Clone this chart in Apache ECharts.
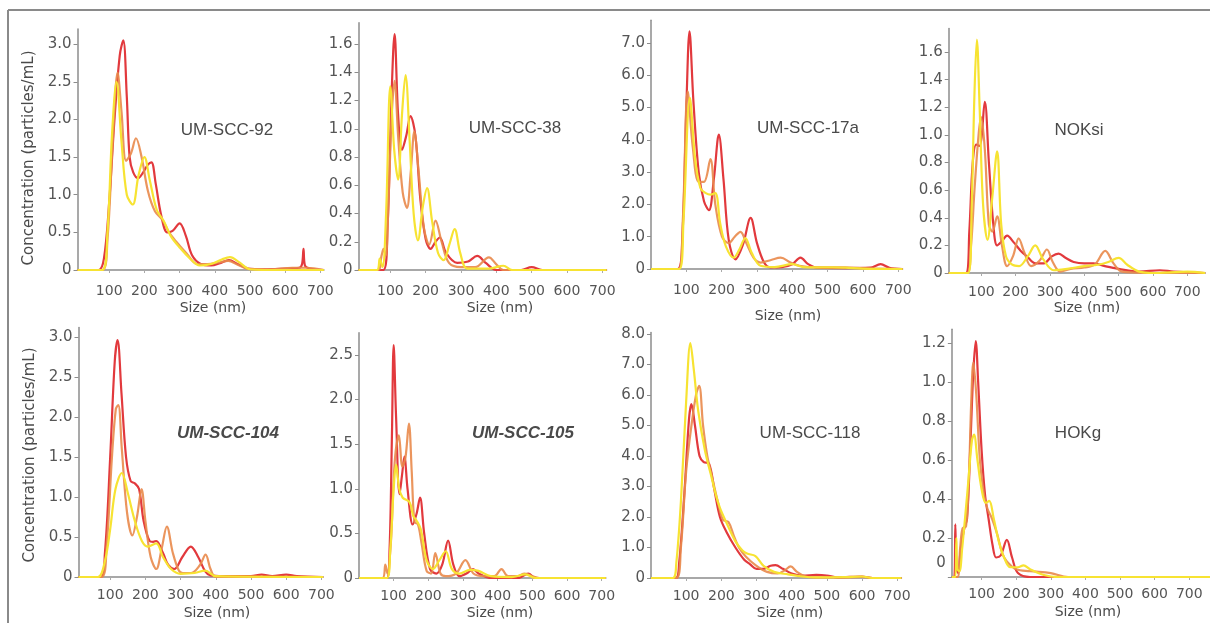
<!DOCTYPE html>
<html>
<head>
<meta charset="utf-8">
<script src="https://cdn.jsdelivr.net/npm/echarts@6/dist/echarts.min.js"></script>
<style>
  html, body { margin: 0; padding: 0; background: #fff; }
  #chart { width: 1210px; height: 623px; }
</style>
</head>
<body>
<div id="chart"></div>
<script>
// size ticks shared by every panel
const sizeTicks = [100, 200, 300, 400, 500, 600, 700];

// concentration ticks per panel
const yTicks92 = [0, 0.5, 1.0, 1.5, 2.0, 2.5, 3.0];
const yTicks38 = [0, 0.2, 0.4, 0.6, 0.8, 1.0, 1.2, 1.4, 1.6];
const yTicks17a = [0, 1, 2, 3, 4, 5, 6, 7];
const yTicksNOK = [0, 0.2, 0.4, 0.6, 0.8, 1.0, 1.2, 1.4, 1.6];
const yTicks104 = [0, 0.5, 1.0, 1.5, 2.0, 2.5, 3.0];
const yTicks105 = [0, 0.5, 1.0, 1.5, 2.0, 2.5];
const yTicks118 = [0, 1, 2, 3, 4, 5, 6, 7, 8];
const yTicksHOK = [0, 0.2, 0.4, 0.6, 0.8, 1.0, 1.2];

const panelNames = ['UM-SCC-92', 'UM-SCC-38', 'UM-SCC-17a', 'NOKsi', 'UM-SCC-104', 'UM-SCC-105', 'UM-SCC-118', 'HOKg'];

// [size nm, concentration]
const red92 = [[10,0],[70,0],[85,0.15],[100,0.9],[115,2.0],[130,2.85],[140,3.05],[150,2.3],[158,1.5],[168,1.3],[182,1.22],[197,1.3],[210,1.4],[220,1.43],[232,1.15],[248,0.72],[265,0.5],[280,0.52],[300,0.62],[318,0.45],[335,0.2],[360,0.08],[390,0.06],[415,0.09],[440,0.13],[465,0.08],[495,0.02],[540,0.01],[600,0.02],[640,0.03],[648,0.08],[652,0.28],[656,0.06],[670,0.02],[710,0]];
const orange92 = [[10,0],[80,0],[95,0.4],[110,1.7],[124,2.62],[135,2.1],[148,1.45],[162,1.55],[176,1.75],[192,1.5],[210,1.05],[230,0.78],[252,0.66],[270,0.5],[290,0.38],[320,0.22],[350,0.08],[380,0.08],[410,0.1],[438,0.12],[465,0.07],[500,0.01],[560,0.01],[620,0.03],[660,0.03],[710,0]];
const yellow92 = [[10,0],[80,0],[95,0.5],[108,1.8],[121,2.5],[135,1.7],[150,1.0],[167,0.87],[183,1.25],[200,1.5],[215,1.2],[235,0.8],[255,0.65],[275,0.45],[300,0.3],[330,0.15],[357,0.06],[390,0.08],[420,0.14],[443,0.17],[470,0.1],[500,0.01],[560,0],[710,0]];

const red38 = [[10,0],[80,0],[92,0.3],[103,1.2],[112,1.67],[122,1.1],[133,0.85],[145,0.95],[157,1.09],[171,0.95],[185,0.5],[200,0.22],[214,0.15],[228,0.2],[240,0.23],[258,0.12],[289,0.05],[320,0.06],[346,0.1],[370,0.05],[400,0],[470,0],[500,0.02],[530,0],[712,0]];
const orange38 = [[10,0],[65,0],[75,0.1],[81,0.15],[87,0.1],[95,0.5],[104,1.1],[112,1.34],[122,0.95],[135,0.55],[147,0.44],[158,0.7],[168,0.98],[180,0.7],[195,0.3],[210,0.18],[228,0.35],[245,0.2],[266,0.05],[300,0.02],[340,0.02],[379,0.09],[400,0.04],[420,0],[712,0]];
const yellow38 = [[10,0],[62,0],[70,0.08],[78,0.02],[88,0.4],[100,1.3],[111,0.85],[122,0.64],[133,1.1],[143,1.38],[155,0.9],[166,0.4],[178,0.21],[192,0.45],[204,0.58],[218,0.35],[235,0.12],[251,0.07],[267,0.18],[282,0.29],[298,0.12],[318,0.01],[380,0.01],[420,0.03],[445,0],[712,0]];

const red17a = [[0,0],[75,0],[88,0.8],[100,5.0],[109,7.36],[120,5.2],[135,3.0],[150,2.1],[164,1.82],[178,2.8],[192,4.16],[205,2.8],[220,0.9],[239,0.3],[260,0.75],[282,1.58],[300,0.8],[320,0.2],[338,0.05],[370,0.06],[400,0.15],[423,0.35],[445,0.15],[470,0.04],[550,0.03],[620,0.04],[650,0.15],[675,0.04],[712,0]];
const orange17a = [[0,0],[78,0],[90,1.5],[104,5.5],[118,3.8],[135,2.7],[150,2.7],[168,3.4],[182,2.0],[201,1.0],[220,0.8],[237,1.0],[253,1.15],[270,0.8],[290,0.35],[310,0.2],[340,0.28],[367,0.35],[395,0.2],[420,0.1],[470,0.05],[550,0.05],[600,0.02],[712,0]];
const yellow17a = [[0,0],[80,0],[92,1.5],[110,5.3],[125,3.4],[140,2.5],[155,2.35],[168,2.3],[182,2.35],[196,1.4],[212,0.7],[234,0.35],[250,0.6],[267,0.96],[285,0.5],[310,0.1],[350,0.06],[400,0.15],[430,0.06],[500,0.05],[550,0.04],[600,0.01],[712,0]];

const redNOK = [[5,0],[55,0],[65,0.3],[75,0.8],[85,0.93],[95,0.92],[110,1.24],[122,0.8],[135,0.35],[146,0.2],[160,0.23],[175,0.27],[195,0.22],[215,0.16],[233,0.12],[258,0.07],[282,0.07],[305,0.12],[325,0.14],[345,0.11],[369,0.08],[400,0.07],[427,0.07],[460,0.05],[500,0.03],[560,0.01],[620,0.02],[660,0.01],[752,0]];
const orangeNOK = [[5,0],[58,0],[70,0.2],[80,0.6],[92,1.0],[99,1.13],[110,0.9],[122,0.35],[132,0.3],[146,0.41],[160,0.2],[175,0.05],[192,0.12],[209,0.25],[225,0.15],[245,0.05],[270,0.09],[291,0.17],[308,0.08],[330,0.01],[360,0.03],[400,0.04],[430,0.06],[461,0.16],[485,0.07],[510,0.01],[600,0],[752,0]];
const yellowNOK = [[5,0],[62,0],[72,0.5],[80,1.3],[87,1.69],[95,1.2],[105,0.5],[118,0.24],[132,0.55],[146,0.88],[158,0.35],[172,0.12],[190,0.06],[210,0.05],[235,0.12],[257,0.2],[280,0.1],[311,0.02],[350,0.03],[400,0.05],[440,0.06],[470,0.08],[500,0.11],[525,0.06],[560,0.01],[600,0],[700,0.01],[752,0]];

const red104 = [[10,0],[72,0],[85,0.3],[100,1.5],[113,2.7],[121,2.96],[132,2.3],[145,1.5],[158,1.2],[170,1.17],[182,1.1],[195,0.7],[212,0.45],[222,0.44],[231,0.45],[250,0.3],[265,0.15],[282,0.1],[305,0.25],[329,0.38],[350,0.25],[370,0.07],[385,0.02],[420,0.01],[500,0.01],[530,0.03],[560,0.01],[600,0.03],[630,0.01],[705,0]];
const orange104 = [[10,0],[75,0],[90,0.4],[105,1.5],[116,2.1],[123,2.15],[133,1.6],[148,0.8],[163,0.52],[176,0.75],[189,1.1],[200,0.7],[215,0.25],[231,0.1],[246,0.35],[261,0.63],[278,0.3],[295,0.08],[306,0.05],[330,0.05],[355,0.15],[371,0.28],[385,0.1],[400,0],[705,0]];
const yellow104 = [[10,0],[65,0],[85,0.2],[100,0.6],[115,1.1],[133,1.3],[150,1.05],[170,0.7],[190,0.45],[207,0.38],[231,0.42],[250,0.25],[273,0.1],[300,0.04],[340,0.05],[370,0.08],[400,0.01],[705,0]];

const red105 = [[0,0],[80,0],[88,0.3],[95,1.6],[100,2.61],[107,1.8],[117,0.94],[124,1.15],[131,1.36],[140,1.0],[155,0.6],[166,0.72],[176,0.9],[188,0.5],[205,0.1],[223,0.05],[240,0.15],[257,0.42],[272,0.15],[290,0.02],[310,0.05],[329,0.1],[345,0.05],[380,0],[460,0],[488,0.05],[510,0],[712,0]];
const orange105 = [[0,0],[68,0],[76,0.15],[82,0.05],[92,0.4],[103,1.3],[115,1.6],[125,1.25],[134,1.35],[144,1.73],[152,1.2],[160,0.63],[170,0.6],[180,0.4],[195,0.08],[208,0.05],[220,0.28],[235,0.05],[250,0.02],[280,0.05],[307,0.2],[330,0.05],[360,0.02],[390,0.02],[411,0.1],[430,0.02],[455,0.02],[478,0.05],[500,0.02],[520,0],[712,0]];
const yellow105 = [[0,0],[80,0],[90,0.3],[100,1.0],[107,1.27],[116,1.0],[126,0.9],[146,0.85],[156,0.7],[165,0.65],[178,0.55],[195,0.2],[213,0.1],[232,0.2],[250,0.3],[268,0.1],[290,0.05],[320,0.09],[345,0.08],[380,0.02],[440,0.01],[480,0.04],[510,0],[712,0]];

const red118 = [[0,0],[70,0],[80,0.5],[95,2.8],[108,5.2],[115,5.7],[125,5.0],[138,4.0],[150,3.8],[165,3.75],[180,2.9],[196,2.0],[215,1.5],[240,1.0],[265,0.6],[282,0.45],[300,0.3],[320,0.3],[340,0.4],[354,0.42],[375,0.3],[400,0.15],[430,0.08],[470,0.1],[500,0.08],[530,0.02],[600,0.05],[630,0],[712,0]];
const orange118 = [[0,0],[72,0],[85,1.0],[100,3.5],[115,5.0],[128,6.0],[137,6.3],[148,5.0],[160,4.0],[172,3.4],[190,2.5],[205,1.9],[220,1.84],[235,1.4],[250,1.0],[270,0.7],[300,0.4],[330,0.2],[360,0.15],[380,0.25],[397,0.38],[415,0.2],[440,0.05],[480,0.02],[560,0.02],[600,0.04],[630,0],[712,0]];
const yellow118 = [[0,0],[62,0],[72,0.5],[85,2.5],[100,5.8],[112,7.7],[122,6.8],[134,5.5],[153,4.2],[170,3.4],[185,2.7],[196,2.3],[215,1.8],[240,1.2],[260,0.9],[273,0.8],[297,0.72],[320,0.4],[350,0.2],[390,0.12],[430,0.05],[470,0.02],[550,0.03],[600,0.05],[630,0],[712,0]];

const redHOK = [[14,0],[21,0],[24,0.27],[27,0.05],[32,0.02],[40,0.15],[50,0.25],[58,0.3],[68,0.7],[76,1.05],[83,1.21],[90,1.0],[100,0.65],[110,0.42],[120,0.3],[132,0.16],[142,0.1],[155,0.11],[173,0.19],[188,0.1],[205,0.02],[240,0],[760,0]];
const orangeHOK = [[14,0],[30,0],[38,0.15],[45,0.25],[55,0.26],[63,0.5],[70,0.9],[76,1.1],[84,0.95],[95,0.6],[107,0.42],[117,0.35],[130,0.3],[145,0.22],[160,0.12],[173,0.08],[200,0.04],[240,0.03],[300,0.02],[350,0],[760,0]];
const yellowHOK = [[14,0],[24,0],[27,0.2],[30,0.04],[36,0.03],[44,0.15],[52,0.3],[62,0.5],[72,0.7],[78,0.73],[88,0.6],[100,0.45],[112,0.38],[122,0.39],[135,0.3],[150,0.18],[165,0.1],[183,0.05],[205,0.05],[221,0.06],[240,0.04],[280,0.01],[320,0],[760,0]];

const seriesByPanel = [
  [red92, orange92, yellow92],
  [red38, orange38, yellow38],
  [red17a, orange17a, yellow17a],
  [redNOK, orangeNOK, yellowNOK],
  [red104, orange104, yellow104],
  [red105, orange105, yellow105],
  [red118, orange118, yellow118],
  [redHOK, orangeHOK, yellowHOK],
];
const yTicksByPanel = [yTicks92, yTicks38, yTicks17a, yTicksNOK, yTicks104, yTicks105, yTicks118, yTicksHOK];

// pixel layout: x0 = px of 0 nm, ppn = px per nm, y0 = px of zero, ppu = px per unit
const layouts = [
  { x0: 74, ppn: 0.352, xmin: 10, xmax: 710, y0: 270, ppu: 75.3, ymax: 3.2, lm: 14, nameX: 227, nameY: 130, sizeX: 213, sizeY: 308 },
  { x0: 355, ppn: 0.3533, xmin: 10, xmax: 712, y0: 270, ppu: 141.25, ymax: 1.75, lm: 14, nameX: 515, nameY: 128, sizeX: 500, sizeY: 308 },
  { x0: 651, ppn: 0.3533, xmin: 0, xmax: 712, y0: 269, ppu: 32.3, ymax: 7.7, lm: 14, nameX: 808, nameY: 128, sizeX: 788, sizeY: 316 },
  { x0: 947, ppn: 0.3433, xmin: 5, xmax: 752, y0: 273, ppu: 138.1, ymax: 1.77, lm: 12, nameX: 1079, nameY: 130, sizeX: 1087, sizeY: 308 },
  { x0: 75, ppn: 0.352, xmin: 10, xmax: 705, y0: 577, ppu: 80, ymax: 3.12, lm: 11, nameX: 228, nameY: 433, sizeX: 217, sizeY: 613 },
  { x0: 359, ppn: 0.3467, xmin: 0, xmax: 712, y0: 578, ppu: 89.2, ymax: 2.75, lm: 11, nameX: 523, nameY: 433, sizeX: 500, sizeY: 613 },
  { x0: 651, ppn: 0.3517, xmin: 0, xmax: 712, y0: 578, ppu: 30.5, ymax: 8.05, lm: 11, nameX: 810, nameY: 433, sizeX: 790, sizeY: 613 },
  { x0: 947, ppn: 0.3467, xmin: 14, xmax: 760, y0: 577, ppu: 195, ymax: 1.27, lm: 10, nameX: 1078, nameY: 433, sizeX: 1088, sizeY: 612 },
];

const lineColors = ['#e2393d', '#e98a4b', '#f7e332'];
const axisColor = '#8c8c8c';
const labelColor = '#555';
const tickFont = 'DejaVu Sans';

const grids = layouts.map((l) => ({
  left: l.x0 + l.xmin * l.ppn,
  top: l.y0 - l.ymax * l.ppu,
  width: (l.xmax - l.xmin) * l.ppn,
  height: l.ymax * l.ppu,
}));

const xAxes = layouts.map((l, i) => ({
  type: 'value',
  gridIndex: i,
  min: l.xmin,
  max: l.xmax,
  splitLine: { show: false },
  axisLine: { show: true, lineStyle: { color: axisColor, width: 1.5 } },
  axisTick: { show: true, customValues: sizeTicks, length: 3, lineStyle: { color: '#aaa' } },
  axisLabel: {
    customValues: sizeTicks,
    color: labelColor,
    fontFamily: tickFont,
    fontSize: 14,
    margin: l.lm,
  },
}));

const yAxes = layouts.map((l, i) => {
  const isHOK = i === 7;
  return {
    type: 'value',
    gridIndex: i,
    min: 0,
    max: l.ymax,
    splitLine: { show: false },
    axisLine: { show: true, lineStyle: { color: axisColor, width: 1.5 } },
    axisTick: { show: true, customValues: yTicksByPanel[i], length: 4, lineStyle: { color: axisColor } },
    axisLabel: {
      customValues: yTicksByPanel[i],
      color: labelColor,
      fontFamily: tickFont,
      fontSize: 15,
      margin: 6,
      // the HOKg zero label sits above its tick in the original
      formatter: (v) => (v === 0 ? (isHOK ? '{z|0}' : '0') : v.toFixed(1)),
      rich: {
        z: { padding: [0, 0, 28, 0], color: labelColor, fontFamily: tickFont, fontSize: 15 },
      },
    },
  };
});

const series = [];
seriesByPanel.forEach((set, i) => {
  set.forEach((data, k) => {
    series.push({
      type: 'line',
      xAxisIndex: i,
      yAxisIndex: i,
      data,
      smooth: 0.35,
      showSymbol: false,
      silent: true,
      lineStyle: { color: lineColors[k], width: 2.2, opacity: k === 1 ? 0.9 : 1 },
      z: 2 + k,
    });
  });
});

const textEl = (text, x, y, font, rotation) => ({
  type: 'text',
  x,
  y,
  rotation: rotation || 0,
  style: {
    text,
    font,
    fill: '#4a4a4a',
    align: 'center',
    verticalAlign: 'middle',
    textAlign: 'center',
    textVerticalAlign: 'middle',
  },
});

const graphics = [
  { type: 'line', shape: { x1: 8, y1: 10, x2: 1210, y2: 10 }, style: { stroke: '#8a8a8a', lineWidth: 2 } },
  { type: 'line', shape: { x1: 8, y1: 10, x2: 8, y2: 623 }, style: { stroke: '#8a8a8a', lineWidth: 2 } },
  textEl('Concentration (particles/mL)', 29, 158, '15px "DejaVu Sans"', Math.PI / 2),
  textEl('Concentration (particles/mL)', 30, 455, '15px "DejaVu Sans"', Math.PI / 2),
];
layouts.forEach((l, i) => {
  const italic = i === 4 || i === 5;
  const font = italic ? 'italic bold 17px "Liberation Sans"' : '17px "Liberation Sans"';
  graphics.push(textEl(panelNames[i], l.nameX, l.nameY, font));
  graphics.push(textEl('Size (nm)', l.sizeX, l.sizeY, '14px "DejaVu Sans"'));
});

const chart = echarts.init(document.getElementById('chart'));
chart.setOption({
  backgroundColor: '#fff',
  animation: false,
  grid: grids,
  xAxis: xAxes,
  yAxis: yAxes,
  series,
  graphic: graphics,
});
</script>
</body>
</html>
